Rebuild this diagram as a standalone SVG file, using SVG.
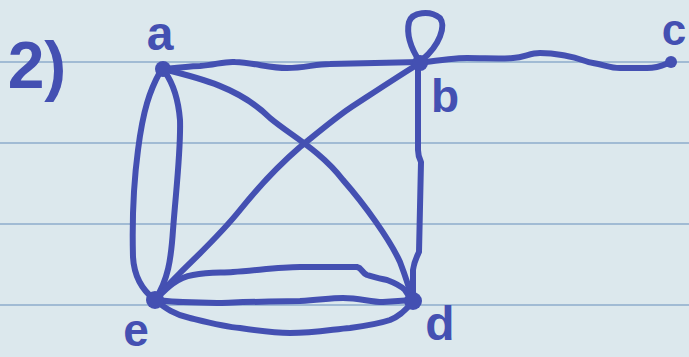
<svg xmlns="http://www.w3.org/2000/svg" width="689" height="357" viewBox="0 0 689 357">
<style>
.rule{stroke:#8eaccb;stroke-width:1.5;fill:none}
.edge{fill:none;stroke:#4450b2;stroke-width:6;stroke-linecap:round;stroke-linejoin:round}
.dot{fill:#4450b2}
.lbl{font-family:"Liberation Sans",Arial,sans-serif;font-weight:bold;fill:#4450b2;text-anchor:middle}
</style>
<rect x="0" y="0" width="689" height="357" fill="#dce8ed"/>
<g id="paper">
<line class="rule" x1="0" y1="62" x2="689" y2="62"/>
<line class="rule" x1="0" y1="143" x2="689" y2="143"/>
<line class="rule" x1="0" y1="224" x2="689" y2="224"/>
<line class="rule" x1="0" y1="305" x2="689" y2="305"/>
</g>
<text id="title" class="lbl" x="37" y="88" font-size="66">2)</text>
<g id="connectors">
<path id="a-b" class="edge" d="M163,69 C180,68 190,66 200,66 C215,65 225,61 235,62 C255,63 270,68 287,68 C305,68 315,64 330,64 L420,62"/>
<path id="a-d" class="edge" d="M163,69 C200,78 240,88 270,118 C290,135 320,150 343,180 C365,205 390,240 400,262 C405,275 410,290 413,303"/>
<path id="b-e" class="edge" d="M420,63 C400,75 370,95 350,108 C335,118 315,135 300,147 C285,160 260,185 240,210 C220,235 195,258 180,273 C170,283 160,293 155,300"/>
<path id="b-d" class="edge" d="M418,63 L418,150 Q418,156 421,162 L419,252 Q414,262 413,270 L413,302"/>
<path id="b-b" class="edge" d="M420,62 C412,50 406,35 409,22 C412,12 430,10 440,18 C446,26 440,45 422,60"/>
<path id="b-c" class="edge" d="M420,63 C440,60 455,58 467,58 C485,58 500,59 513,58 C525,57 530,53 540,53 C555,53 560,55 567,56 C580,58 585,62 593,63 C605,65 610,68 620,68 L647,68 C660,68 665,64 671,62"/>
<path id="a-e-1" class="edge" stroke-width="7" d="M160,72 C150,90 143,110 138,150 C134,180 132,220 133,257 C134,275 142,290 155,300"/>
<path id="a-e-2" class="edge" stroke-width="7" d="M165,72 C172,82 178,95 180,120 C181,150 176,190 173,230 C171,260 168,280 155,300"/>
<path id="e-d-1" class="edge" d="M155,300 C165,290 175,278 193,275 C210,272 220,273 233,272 C260,270 280,267 300,267 L357,267 C362,268 362,273 367,275 C377,278 380,279 387,280 C395,283 400,285 405,290 L413,302"/>
<path id="e-d-2" class="edge" d="M155,300 C165,301 175,302 183,302 L217,303 C250,302 280,301 300,301 C320,300 330,298 343,298 C360,298 370,302 383,302 L413,300"/>
<path id="e-d-3" class="edge" d="M155,300 C165,308 175,315 190,318 C210,323 225,327 240,328 C260,331 275,333 290,333 C315,333 335,329 350,328 C365,326 378,324 390,320 C400,316 405,310 413,302"/>
</g>
<g id="a"><circle class="dot" cx="163" cy="69" r="8"/><text class="lbl" x="160" y="50" font-size="48">a</text></g>
<g id="b"><circle class="dot" cx="420" cy="63" r="8"/><text class="lbl" x="445" y="112" font-size="46">b</text></g>
<g id="c"><circle class="dot" cx="671" cy="62" r="6"/><text class="lbl" x="674" y="45" font-size="44">c</text></g>
<g id="d"><circle class="dot" cx="413" cy="301" r="9"/><text class="lbl" x="440" y="340" font-size="48">d</text></g>
<g id="e"><circle class="dot" cx="155" cy="300" r="9"/><text class="lbl" x="136" y="346" font-size="46">e</text></g>
</svg>
